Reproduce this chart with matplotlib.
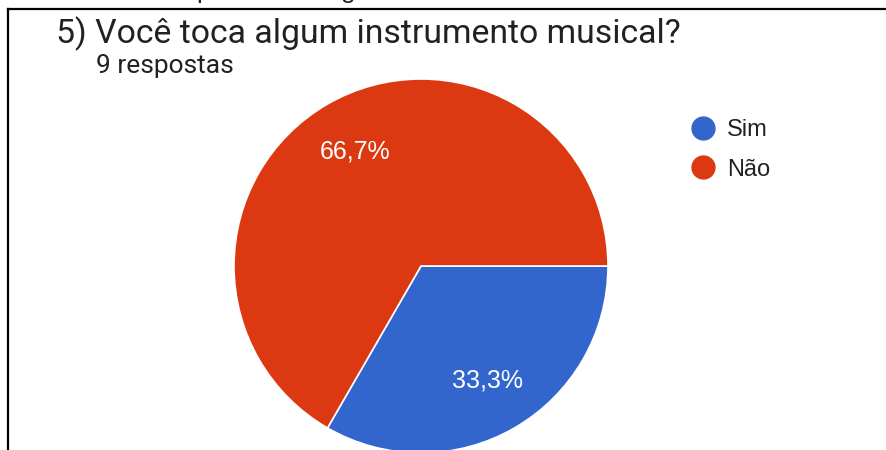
import matplotlib
matplotlib.use("Agg")
import matplotlib.pyplot as plt
from matplotlib.lines import Line2D
import numpy as np

plt.rcParams['font.family'] = ['Roboto', 'DejaVu Sans']

categories = ["Sim", "Não"]
values = [3, 6]
colors = ["#3366CC", "#DC3912"]
pct_labels = ["33,3%", "66,7%"]
title = "5) Você toca algum instrumento musical?"
subtitle = "9 respostas"
caption = "Gráfico sobre a prática de algum instrumento musical"

W, H = 887, 450
fig = plt.figure(figsize=(W / 100, H / 100), dpi=100)
renderer = fig.canvas.get_renderer()


def fit_width(t, target_px):
    w = t.get_window_extent(renderer=renderer).width
    t.set_fontsize(t.get_fontsize() * target_px / w)


# frame of the screenshot
fig.add_artist(Line2D([8 / W, 8 / W], [0, 1 - 9 / H], color="black", lw=1.6, transform=fig.transFigure))
fig.add_artist(Line2D([8 / W, 1], [1 - 9 / H, 1 - 9 / H], color="black", lw=1.6, transform=fig.transFigure))

# caption of the screenshot, cut off at the top as in the reference
cap = fig.text(9 / W, 1 + 2 / H, caption, fontsize=17.5, color="#222222", ha="left",
               va="baseline", family=["Liberation Sans", "DejaVu Sans"])
fit_width(cap, 621)

cx, cy, r = 421, 266, 187
ax = fig.add_axes([(cx - r) / W, (H - cy - r) / H, 2 * r / W, 2 * r / H])
wedges, texts = ax.pie(values, colors=colors, startangle=0, counterclock=False,
                       wedgeprops=dict(edgecolor="white", linewidth=1.2))
ax.set_xlim(-1, 1)
ax.set_ylim(-1, 1)
ax.set_aspect("equal")
ax.axis("off")

total = sum(values)
start = 0.0
for v, lab in zip(values, pct_labels):
    ang = start - 360 * v / total / 2
    rad = np.deg2rad(ang)
    ax.text(0.71 * np.cos(rad), 0.71 * np.sin(rad), lab, color="white", fontsize=18,
            ha="center", va="center", family=["Liberation Sans", "DejaVu Sans"])
    start -= 360 * v / total

t1 = fig.text(56 / W, 1 - 43 / H, title, fontsize=24, color="#202124", ha="left", va="baseline")
fit_width(t1, 625)
t2 = fig.text(96 / W, 1 - 73 / H, subtitle, fontsize=18, color="#202124", ha="left", va="baseline")
fit_width(t2, 138)

# legend
for i, (cat, c) in enumerate(zip(categories, colors)):
    yc = 1 - (128 + 39 * i) / H
    fig.add_artist(Line2D([703 / W], [yc], marker="o", markersize=16.5, linestyle="none",
                          markerfacecolor=c, markeredgecolor=c, transform=fig.transFigure))
    fig.text(727 / W, yc, cat, fontsize=17, color="#222222", ha="left", va="center_baseline",
             family=["Liberation Sans", "DejaVu Sans"])

fig.savefig("out.png", dpi=100)
